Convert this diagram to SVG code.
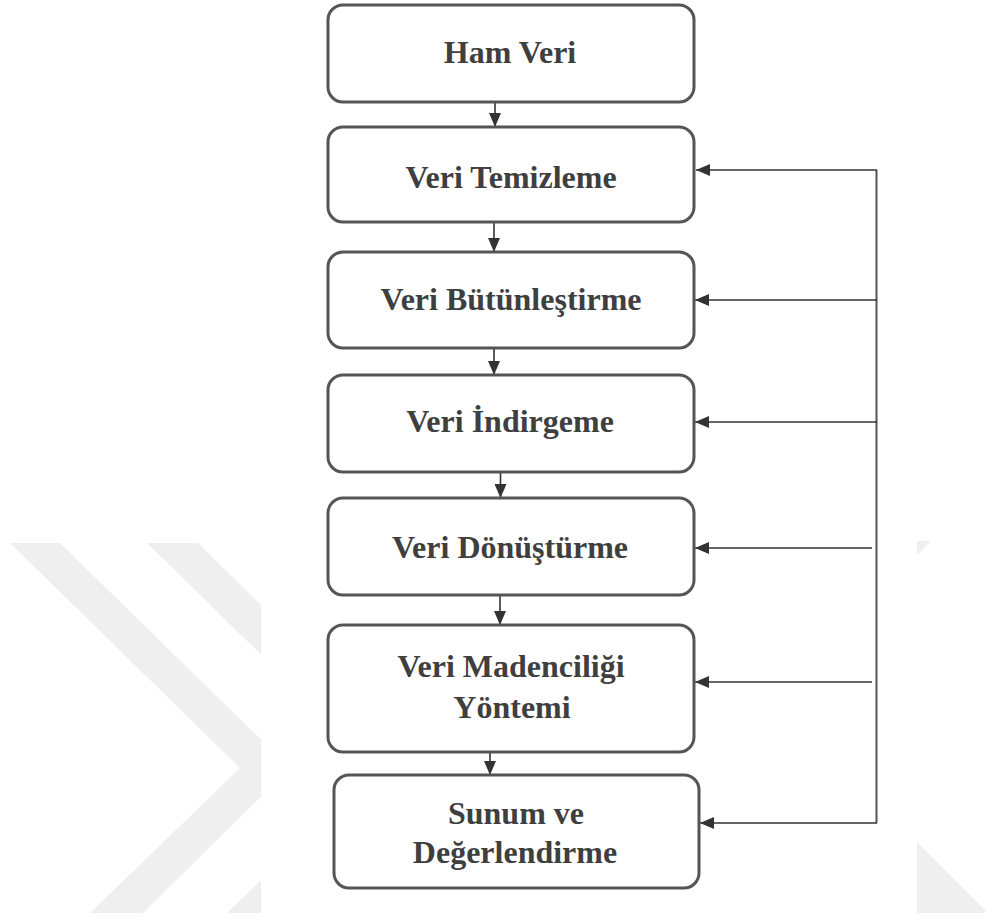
<svg xmlns="http://www.w3.org/2000/svg" width="985" height="918" viewBox="0 0 985 918">
  <defs>
    <style>
      .box { fill: #ffffff; stroke: #555555; stroke-width: 3; }
      .lbl { font-family: "Liberation Serif", "Times New Roman", serif; font-weight: bold; font-size: 32px; fill: #3f3f3f; text-anchor: middle; }
      .flow { stroke: #333333; stroke-width: 1.6; fill: none; }
      .bus { stroke: #555555; stroke-width: 2; fill: none; }
      .wm { fill: #efefef; }
    </style>
    <marker id="arr" markerUnits="userSpaceOnUse" markerWidth="14" markerHeight="12" refX="14" refY="6" orient="auto">
      <path d="M0,0 L14,6 L0,12 z" fill="#333333"/>
    </marker>
  </defs>

  <rect x="0" y="0" width="985" height="918" fill="#ffffff"/>

  <!-- background watermark -->
  <g id="watermark">
    <polygon class="wm" points="10,543 60,543 290,768 143,913 90,913 240,768"/>
    <polygon class="wm" points="147,543 198,543 427,768 280,913 227,913 377,768"/>
    <polygon class="wm" points="917,842 985,910 985,913 917,913"/>
    <polygon class="wm" points="917,541 931,541 917,555"/>
    <rect x="261" y="0" width="656" height="918" fill="#ffffff"/>
  </g>

  <g id="connectors">
    <line class="flow" x1="495" y1="102" x2="495" y2="127" marker-end="url(#arr)"/>
    <line class="flow" x1="494" y1="222" x2="494" y2="252" marker-end="url(#arr)"/>
    <line class="flow" x1="494" y1="348" x2="494" y2="375" marker-end="url(#arr)"/>
    <line class="flow" x1="500.5" y1="472" x2="500.5" y2="498" marker-end="url(#arr)"/>
    <line class="flow" x1="500" y1="595" x2="500" y2="625" marker-end="url(#arr)"/>
    <line class="flow" x1="490" y1="752" x2="490" y2="775" marker-end="url(#arr)"/>

    <line class="bus" x1="876.5" y1="170" x2="876.5" y2="823"/>
    <line class="flow" x1="877" y1="170" x2="696" y2="170" marker-end="url(#arr)"/>
    <line class="flow" x1="877" y1="300" x2="695" y2="300" marker-end="url(#arr)"/>
    <line class="flow" x1="877" y1="422" x2="695" y2="422" marker-end="url(#arr)"/>
    <line class="flow" x1="872" y1="548" x2="695" y2="548" marker-end="url(#arr)"/>
    <line class="flow" x1="872" y1="682" x2="695" y2="682" marker-end="url(#arr)"/>
    <line class="flow" x1="877" y1="823" x2="700" y2="823" marker-end="url(#arr)"/>
  </g>

  <g id="ham-veri">
    <rect class="box" x="328" y="5" width="366" height="97" rx="15"/>
    <text class="lbl" x="510" y="63">Ham Veri</text>
  </g>
  <g id="veri-temizleme">
    <rect class="box" x="328" y="127" width="366" height="95" rx="15"/>
    <text class="lbl" x="511" y="188">Veri Temizleme</text>
  </g>
  <g id="veri-butunlestirme">
    <rect class="box" x="328" y="252" width="366" height="96" rx="15"/>
    <text class="lbl" x="511" y="310">Veri Bütünleştirme</text>
  </g>
  <g id="veri-indirgeme">
    <rect class="box" x="328" y="375" width="366" height="97" rx="15"/>
    <text class="lbl" x="510" y="432">Veri İndirgeme</text>
  </g>
  <g id="veri-donusturme">
    <rect class="box" x="328" y="498" width="366" height="97" rx="15"/>
    <text class="lbl" x="510" y="558">Veri Dönüştürme</text>
  </g>
  <g id="veri-madenciligi">
    <rect class="box" x="328" y="625" width="366" height="127" rx="15"/>
    <text class="lbl" x="511" y="677">Veri Madenciliği</text>
    <text class="lbl" x="512" y="718">Yöntemi</text>
  </g>
  <g id="sunum">
    <rect class="box" x="334" y="775" width="365" height="113" rx="15"/>
    <text class="lbl" x="516" y="824">Sunum ve</text>
    <text class="lbl" x="515" y="863">Değerlendirme</text>
  </g>
</svg>
